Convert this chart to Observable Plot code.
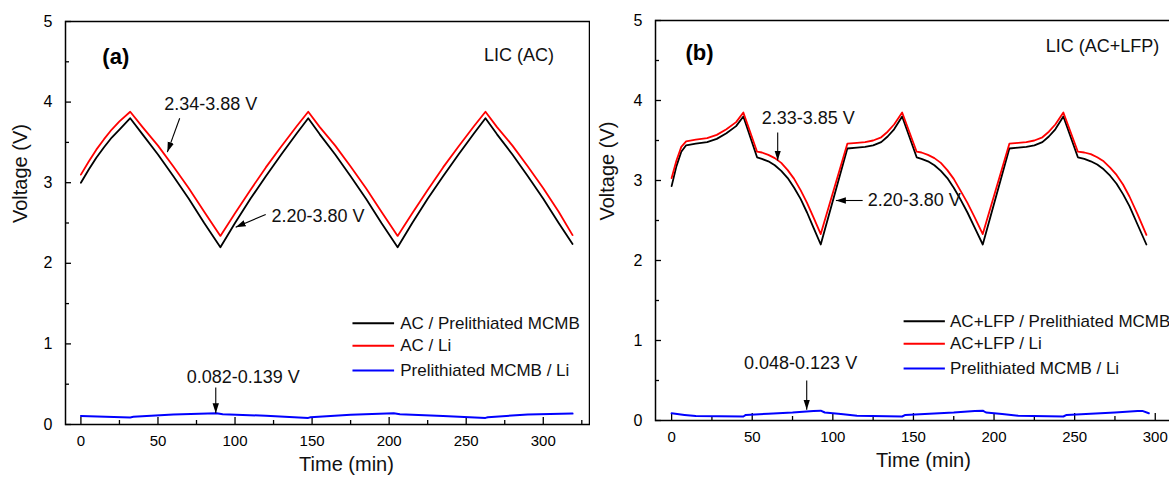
<!DOCTYPE html>
<html><head><meta charset="utf-8">
<script src="https://cdn.jsdelivr.net/npm/d3@7"></script>
<script src="https://cdn.jsdelivr.net/npm/@observablehq/plot@0.6"></script>
<style>
body{margin:0;background:#fff;overflow:hidden;}
#wrap{display:flex;width:1200px;}
#pa{flex:none;width:590px;}
#pb{flex:none;width:598px;}
</style></head><body><div id="wrap"><div id="pa"></div><div id="pb"></div></div>
<script>
// ---------- Panel (a) data ----------
const timeA = [0,5,10,15,20,25,32,40,50,60,70,80,90.5,100,110,120,130,140,147.5,155,165,175,185,195,205.5,215,225,235,245,255,262.5,270,280,290,300,310,319];
const blackA = [3.00,3.16,3.31,3.44,3.56,3.66,3.80,3.60,3.35,3.08,2.80,2.50,2.20,2.50,2.80,3.08,3.35,3.61,3.80,3.60,3.35,3.08,2.80,2.50,2.20,2.50,2.80,3.08,3.35,3.61,3.80,3.60,3.35,3.08,2.80,2.50,2.24];
const redA = [3.10,3.26,3.41,3.54,3.66,3.76,3.88,3.69,3.46,3.20,2.93,2.64,2.34,2.62,2.91,3.19,3.45,3.70,3.88,3.69,3.46,3.20,2.93,2.64,2.34,2.62,2.91,3.19,3.45,3.70,3.88,3.69,3.46,3.20,2.93,2.64,2.35];
const timeBlueA = [0,32,34,60,88,92,120,147.5,149,175,203,207,235,262.5,264,290,319];
const blueA = [0.105,0.088,0.095,0.125,0.139,0.128,0.108,0.082,0.090,0.120,0.139,0.128,0.105,0.082,0.090,0.125,0.135];

// ---------- Panel (b) data ----------
const timeB = [0,3,6,9,15,22,28,34,40,44.5,
  53,56,60,64,68,72,76,80,84,88,92.5,
  109,115,120,125,130,134,138,143,
  152,155,159,163,167,171,175,179,183.5,188,193,
  209.5,215,220,225,230,234,238,243,
  252,256,260,264,268,272,276,280,284,289,294.5];
const blackB = [2.93,3.18,3.36,3.44,3.46,3.48,3.52,3.59,3.68,3.80,
  3.29,3.27,3.24,3.19,3.12,3.03,2.91,2.77,2.60,2.41,2.20,
  3.40,3.41,3.42,3.44,3.48,3.55,3.64,3.80,
  3.29,3.27,3.24,3.19,3.12,3.03,2.91,2.77,2.60,2.41,2.20,
  3.40,3.41,3.42,3.44,3.48,3.55,3.64,3.80,
  3.29,3.27,3.24,3.20,3.14,3.06,2.96,2.83,2.68,2.45,2.20];
const redB = [3.03,3.25,3.42,3.49,3.51,3.53,3.57,3.64,3.73,3.85,
  3.36,3.35,3.32,3.28,3.22,3.13,3.02,2.88,2.72,2.54,2.33,
  3.46,3.47,3.48,3.50,3.54,3.61,3.70,3.85,
  3.36,3.35,3.32,3.28,3.22,3.13,3.02,2.88,2.72,2.54,2.33,
  3.46,3.47,3.48,3.50,3.54,3.61,3.70,3.85,
  3.36,3.35,3.33,3.29,3.24,3.16,3.07,2.95,2.80,2.58,2.32];
const timeBlueB = [0,8,15,44.5,46,60,75,88,92.5,95,105,115,143,145,160,175,188,193,195,205,215,243,245,260,275,289,292,296];
const blueB = [0.090,0.070,0.055,0.050,0.070,0.085,0.100,0.120,0.123,0.100,0.080,0.060,0.050,0.070,0.085,0.100,0.120,0.123,0.100,0.080,0.060,0.050,0.070,0.085,0.100,0.120,0.120,0.090];

// ---------- axes / legend text ----------
const majorXTicks = [0,50,100,150,200,250,300];
const minorXTicks = [25,75,125,175,225,275,325];
const majorYTicks = [0,1,2,3,4,5];
const minorYTicks = [0.5,1.5,2.5,3.5,4.5];
const legendA = ["AC / Prelithiated MCMB","AC / Li","Prelithiated MCMB / Li"];
const legendB = ["AC+LFP / Prelithiated MCMB","AC+LFP / Li","Prelithiated MCMB / Li"];
const colors = ["#000000","#ff0000","#0000ff"];

// annotations (data coordinates)
const textsA = [
  {s:"(a)", t:13.9, v:4.56, a:"start", bold:true},
  {s:"LIC (AC)", t:307, v:4.58, a:"end"},
  {s:"2.34-3.88 V", t:84.2, v:3.97, a:"middle"},
  {s:"2.20-3.80 V", t:123.6, v:2.59, a:"start"},
  {s:"0.082-0.139 V", t:105.3, v:0.587, a:"middle"}
];
const arrowsA = [
  {t1:64.1, v1:3.80, t2:56.1, v2:3.38},
  {t1:119.9, v1:2.605, t2:100.4, v2:2.448},
  {t1:87.5, v1:0.46, t2:87.5, v2:0.14}
];
const textsB = [
  {s:"(b)", t:8.6, v:4.60, a:"start", bold:true},
  {s:"LIC (AC+LFP)", t:302.5, v:4.675, a:"end"},
  {s:"2.33-3.85 V", t:84.8, v:3.775, a:"middle"},
  {s:"2.20-3.80 V", t:121.6, v:2.75, a:"start"},
  {s:"0.048-0.123 V", t:80, v:0.71, a:"middle"}
];
const arrowsB = [
  {t1:65.8, v1:3.60, t2:65.8, v2:3.25},
  {t1:118.5, v1:2.75, t2:101.9, v2:2.75},
  {t1:83.8, v1:0.50, t2:83.8, v2:0.135}
];

function filledArrow(color, context) {
  const ns = "http://www.w3.org/2000/svg";
  const doc = (context && context.document) || document;
  const m = doc.createElementNS(ns, "marker");
  m.setAttribute("viewBox", "-10 -4 10 8");
  m.setAttribute("markerWidth", "10");
  m.setAttribute("markerHeight", "8");
  m.setAttribute("markerUnits", "userSpaceOnUse");
  m.setAttribute("orient", "auto");
  m.setAttribute("refX", "0");
  m.setAttribute("refY", "0");
  const p = doc.createElementNS(ns, "path");
  p.setAttribute("d", "M-10,-3.2L0,0L-10,3.2Z");
  p.setAttribute("fill", color);
  p.setAttribute("stroke", "none");
  m.appendChild(p);
  return m;
}

function panel(c, useMarker) {
  const zip = (t, v) => t.map((x, i) => ({t: x, v: v[i]}));
  const series = [zip(c.timeBlack, c.black), zip(c.timeRed, c.red), zip(c.timeBlue, c.blue)];
  const inDom = (d) => d >= c.xDomain[0] && d <= c.xDomain[1];
  const leg = c.legend.map((s, i) => ({s, color: colors[i], v: c.legendV[i]}));
  const textMarks = ["start", "middle", "end"].map(a =>
    Plot.text(c.texts.filter(d => d.a === a && !d.bold), {x: "t", y: "v", text: "s", textAnchor: a, fontSize: 18, fill: "#111"}));
  const arrowMark = useMarker
    ? Plot.link(c.arrows, {x1: "t1", y1: "v1", x2: "t2", y2: "v2", stroke: "black", strokeWidth: 1.1, markerEnd: filledArrow})
    : Plot.arrow(c.arrows, {x1: "t1", y1: "v1", x2: "t2", y2: "v2", stroke: "black", strokeWidth: 1.1, headLength: 8, headAngle: 40});
  const marks = [
    Plot.axisX({ticks: majorXTicks.filter(inDom), tickSize: 0, tickPadding: 11, fontSize: 15, label: null, tickFormat: d => String(d)}),
    Plot.axisX({ticks: majorXTicks.filter(inDom), tickSize: -7, tickFormat: () => "", label: null, strokeWidth: 1.3}),
    Plot.axisX({ticks: minorXTicks.filter(inDom), tickSize: -4, tickFormat: () => "", label: null, strokeWidth: 1.3}),
    Plot.axisY({ticks: majorYTicks, tickSize: 0, tickPadding: 13, fontSize: 16, label: null, tickFormat: d => String(d)}),
    Plot.axisY({ticks: majorYTicks, tickSize: -6, tickFormat: () => "", label: null, strokeWidth: 1.3}),
    Plot.axisY({ticks: minorYTicks, tickSize: -4, tickFormat: () => "", label: null, strokeWidth: 1.3}),
    Plot.line(series[2], {x: "t", y: "v", stroke: colors[2], strokeWidth: 2}),
    Plot.line(series[0], {x: "t", y: "v", stroke: colors[0], strokeWidth: 1.8}),
    Plot.line(series[1], {x: "t", y: "v", stroke: colors[1], strokeWidth: 1.8}),
    Plot.frame({stroke: "black", strokeWidth: 1.5}),
    Plot.link(leg, {x1: c.legendX[0], x2: c.legendX[1], y1: "v", y2: "v", stroke: "color", strokeWidth: 2}),
    Plot.text(leg, {x: c.legendX[2], y: "v", text: "s", textAnchor: "start", fontSize: 17, fill: "#111"}),
    ...textMarks,
    Plot.text(c.texts.filter(d => d.bold), {x: "t", y: "v", text: "s", textAnchor: "start", fontSize: 22, fontWeight: "bold", fill: "#000"}),
    arrowMark,
    Plot.text(["Voltage (V)"], {frameAnchor: "left", text: d => d, rotate: -90, dx: c.yLabelDx, fontSize: 20, fill: "#111"}),
    Plot.text(["Time (min)"], {frameAnchor: "bottom", text: d => d, dx: c.xLabelDx, dy: 46, fontSize: 20, fill: "#111"})
  ];
  return Plot.plot({
    width: c.width, height: 479,
    marginLeft: 65, marginRight: 1, marginTop: c.mt, marginBottom: c.mb,
    x: {domain: c.xDomain},
    y: {domain: [0, 5]},
    style: {fontFamily: "'Liberation Sans', Arial, sans-serif", background: "white", color: "black", overflow: "visible"},
    marks
  });
}

function build(c) {
  try { return panel(c, true); } catch (e) { return panel(c, false); }
}

document.getElementById("pa").append(build({
  width: 590, mt: 21, mb: 55, xDomain: [-10, 330],
  timeBlack: timeA, black: blackA, timeRed: timeA, red: redA, timeBlue: timeBlueA, blue: blueA,
  legend: legendA, legendV: [1.257, 0.976, 0.67], legendX: [176.2, 203.2, 207.2],
  texts: textsA, arrows: arrowsA, yLabelDx: -45, xLabelDx: 19
}));
document.getElementById("pb").append(build({
  width: 598, mt: 20, mb: 59, xDomain: [-10, 320],
  timeBlack: timeB, black: blackB, timeRed: timeB, red: redB, timeBlue: timeBlueB, blue: blueB,
  legend: legendB, legendV: [1.24, 0.96, 0.65], legendX: [143.9, 169.5, 172.7],
  texts: textsB, arrows: arrowsB, yLabelDx: -48, xLabelDx: 2
}));
</script></body></html>
